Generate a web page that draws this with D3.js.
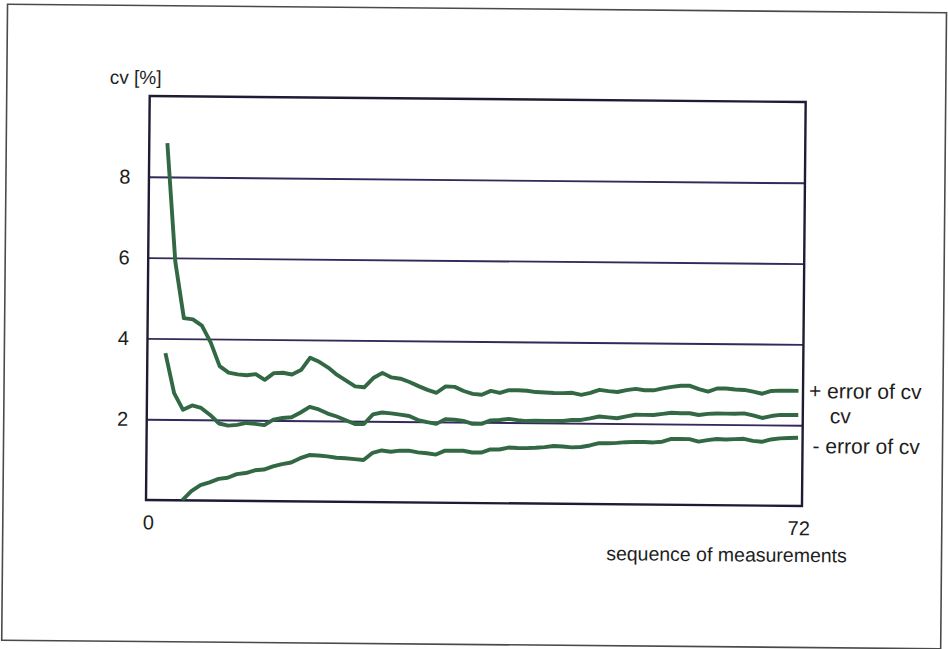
<!DOCTYPE html>
<html>
<head>
<meta charset="utf-8">
<script src="https://cdn.jsdelivr.net/npm/d3@7/dist/d3.min.js"></script>
<style>
  html, body { margin: 0; padding: 0; background: #ffffff; }
  svg { display: block; }
  text { font-family: "Liberation Sans", Arial, sans-serif; fill: #1e1e1e; }
</style>
</head>
<body>
<svg id="chart" width="948" height="649"></svg>
<script>
// Sequence index of each measurement (cv needs at least two values, so it starts at 2)
const measurementIndex = [
   2,  3,  4,  5,  6,  7,  8,  9, 10, 11, 12, 13, 14, 15, 16, 17, 18, 19, 20, 21,
  22, 23, 24, 25, 26, 27, 28, 29, 30, 31, 32, 33, 34, 35, 36, 37, 38, 39, 40, 41,
  42, 43, 44, 45, 46, 47, 48, 49, 50, 51, 52, 53, 54, 55, 56, 57, 58, 59, 60, 61,
  62, 63, 64, 65, 66, 67, 68, 69, 70, 71, 72
];

// cv + error [%]
const cvPlusError = [
  8.84, 5.90, 4.51, 4.48, 4.33, 3.91, 3.33, 3.17, 3.13, 3.11, 3.14, 3.00, 3.17, 3.18, 3.14, 3.25, 3.56, 3.46, 3.32, 3.14,
  3.00, 2.86, 2.84, 3.07, 3.20, 3.09, 3.06, 2.98, 2.88, 2.79, 2.72, 2.88, 2.87, 2.77, 2.70, 2.68, 2.78, 2.73, 2.80, 2.80,
  2.79, 2.76, 2.75, 2.74, 2.74, 2.75, 2.70, 2.75, 2.83, 2.80, 2.78, 2.83, 2.86, 2.83, 2.83, 2.88, 2.92, 2.95, 2.95, 2.87,
  2.81, 2.89, 2.89, 2.87, 2.86, 2.82, 2.77, 2.84, 2.85, 2.85, 2.85
];

// cv [%]
const cvValues = [
  3.64, 2.65, 2.24, 2.35, 2.29, 2.12, 1.91, 1.86, 1.88, 1.93, 1.91, 1.88, 2.02, 2.06, 2.08, 2.20, 2.34, 2.28, 2.18, 2.11,
  2.02, 1.93, 1.93, 2.17, 2.22, 2.20, 2.17, 2.14, 2.04, 1.99, 1.95, 2.07, 2.06, 2.03, 1.96, 1.96, 2.05, 2.06, 2.09, 2.06,
  2.04, 2.05, 2.05, 2.05, 2.05, 2.08, 2.08, 2.12, 2.17, 2.15, 2.13, 2.18, 2.22, 2.22, 2.22, 2.25, 2.28, 2.27, 2.27, 2.23,
  2.26, 2.27, 2.27, 2.27, 2.28, 2.23, 2.17, 2.22, 2.25, 2.25, 2.25
];

// cv - error [%] (below zero for the first measurements, so not drawn there)
const cvMinusError = [
  null, null, 0.00, 0.23, 0.38, 0.45, 0.54, 0.57, 0.66, 0.69, 0.76, 0.78, 0.86, 0.92, 0.96, 1.07, 1.15, 1.14, 1.12, 1.09,
  1.08, 1.06, 1.04, 1.22, 1.28, 1.25, 1.28, 1.28, 1.24, 1.22, 1.19, 1.29, 1.29, 1.29, 1.25, 1.25, 1.33, 1.33, 1.38, 1.37,
  1.37, 1.38, 1.40, 1.43, 1.42, 1.40, 1.41, 1.45, 1.51, 1.51, 1.52, 1.54, 1.55, 1.55, 1.54, 1.56, 1.63, 1.63, 1.63, 1.57,
  1.61, 1.64, 1.63, 1.64, 1.65, 1.60, 1.58, 1.64, 1.67, 1.68, 1.69
];

const yTickValues = [2, 4, 6, 8];
const xTickValues = [0, 72];
const seriesLabels = ["+ error of cv", "cv", "- error of cv"];
const yAxisTitle = "cv [%]";
const xAxisTitle = "sequence of measurements";

// ---- layout ----
const plot = { left: 146, top: 96, width: 656, height: 404 };
const tilt = 0.525; // the printed sheet sits slightly askew

const svg = d3.select("#chart");
const page = svg.append("g")
  .attr("transform", `rotate(${tilt}, ${plot.left}, ${plot.top + plot.height})`);

// page frame
page.append("rect")
  .attr("x", 3).attr("y", 5.5).attr("width", 939).attr("height", 636)
  .attr("fill", "none").attr("stroke", "#4a4a4a").attr("stroke-width", 1.6);

const x = d3.scaleLinear().domain([0, 72.5]).range([0, plot.width]);
const y = d3.scaleLinear().domain([0, 10]).range([plot.height, 0]);

const g = page.append("g").attr("transform", `translate(${plot.left},${plot.top})`);

g.append("clipPath").attr("id", "plot-clip")
  .append("rect").attr("width", plot.width).attr("height", plot.height);

// horizontal grid lines with value labels
const yAxis = d3.axisLeft(y)
  .tickValues(yTickValues)
  .tickSize(-plot.width)
  .tickFormat(d3.format("d"));
const yAxisG = g.append("g").call(yAxis);
yAxisG.select(".domain").remove();
yAxisG.selectAll(".tick line")
  .attr("stroke", "#33295a").attr("stroke-width", 1.9);
yAxisG.selectAll(".tick text")
  .attr("x", -24).attr("text-anchor", "middle")
  .style("font-size", "20px").style("font-family", "'Liberation Sans', Arial, sans-serif")
  .attr("fill", "#1e1e1e");

// plot frame
g.append("rect")
  .attr("width", plot.width).attr("height", plot.height)
  .attr("fill", "none").attr("stroke", "#1e1c34").attr("stroke-width", 2.4);

// x axis labels (first and last measurement only)
const xAxis = d3.axisBottom(x).tickValues(xTickValues).tickSize(0).tickPadding(15);
const xAxisG = g.append("g").attr("transform", `translate(0,${plot.height})`).call(xAxis);
xAxisG.select(".domain").remove();
xAxisG.selectAll(".tick text")
  .attr("dx", (d, i) => i === 0 ? 2 : 1)
  .style("font-size", "20px").style("font-family", "'Liberation Sans', Arial, sans-serif")
  .attr("fill", "#1e1e1e");

// series
const series = [cvPlusError, cvValues, cvMinusError];
const line = d3.line()
  .defined(d => d[1] !== null)
  .x(d => x(d[0]))
  .y(d => y(d[1]));

const lines = g.append("g").attr("clip-path", "url(#plot-clip)");
series.forEach(values => {
  lines.append("path")
    .datum(measurementIndex.map((m, i) => [m, values[i]]))
    .attr("d", line)
    .attr("fill", "none")
    .attr("stroke", "#336845")
    .attr("stroke-width", 3.9)
    .attr("stroke-linejoin", "round");
});

// series labels at the right end
const labelPos = [
  { x: 662, y: 296 },
  { x: 683, y: 321 },
  { x: 666, y: 351 }
];
g.selectAll(".series-label")
  .data(seriesLabels)
  .join("text")
  .attr("class", "series-label")
  .attr("x", (d, i) => labelPos[i].x)
  .attr("y", (d, i) => labelPos[i].y)
  .style("font-size", "21px")
  .text(d => d);

// axis titles
page.append("text")
  .attr("x", 106).attr("y", 84)
  .style("font-size", "19px")
  .text(yAxisTitle);

page.append("text")
  .attr("x", 727).attr("y", 556)
  .attr("text-anchor", "middle")
  .style("font-size", "19.5px")
  .text(xAxisTitle);
</script>
</body>
</html>
